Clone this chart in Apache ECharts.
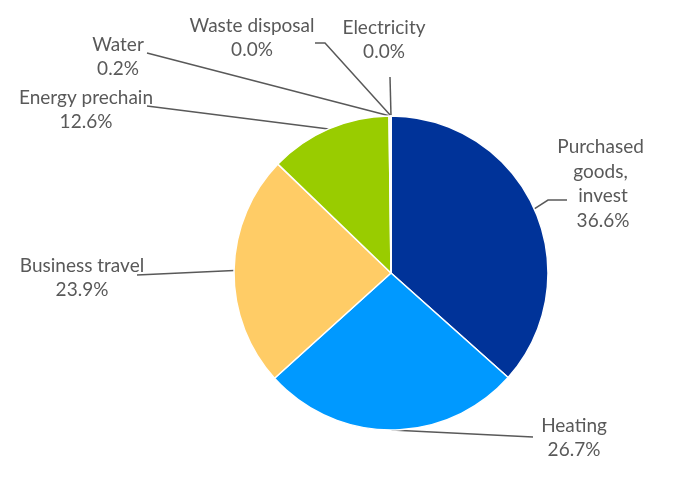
<!DOCTYPE html>
<html>
<head>
<meta charset="utf-8">
<script src="https://cdn.jsdelivr.net/npm/echarts@6/dist/echarts.min.js"></script>
<style>html,body{margin:0;padding:0;background:#fff}#c{width:679px;height:477px}</style>
</head>
<body>
<div id="c"></div>
<script>
const categories = ["Purchased goods, invest", "Heating", "Business travel", "Energy prechain", "Water", "Waste disposal", "Electricity"];
const values = [36.6, 26.7, 23.9, 12.6, 0.2, 0.0, 0.0];
const colors = ["#003399", "#0099FF", "#FFCC66", "#99CC00", "#D9D9D9", "#A6A6A6", "#7F7F7F"];

// label anchor layout (text block centre, line end points)
const labelPos = [
  { x: 603, y: 184, pts: [[548, 200], [567, 200]] },
  { x: 574, y: 438, pts: [[460, 434], [533, 437]] },
  { x: 82, y: 278, pts: [[180, 273], [137, 275]] },
  { x: 86, y: 110, pts: [[240, 118], [147, 106]] },
  { x: 118, y: 57, pts: [[270, 85], [147, 53]] },
  { x: 252, y: 38, pts: [[325, 43], [315, 43]] },
  { x: 384, y: 40, pts: [[390, 90], [390, 77]] }
];

const chart = echarts.init(document.getElementById('c'), null, { renderer: 'canvas' });
chart.setOption({
  animation: false,
  backgroundColor: '#ffffff',
  series: [{
    type: 'pie',
    center: [391, 273],
    radius: 157,
    startAngle: 90,
    clockwise: true,
    avoidLabelOverlap: false,
    itemStyle: { borderColor: '#ffffff', borderWidth: 1.5 },
    label: {
      show: true,
      position: 'outside',
      color: '#595959',
      fontFamily: 'Lato',
      fontSize: 19,
      lineHeight: 24.5,
      align: 'center',
      formatter: p => p.name + '\n' + Number(p.value).toFixed(1) + '%'
    },
    labelLine: { show: true, lineStyle: { color: '#595959', width: 1.5 } },
    labelLayout: function (params) {
      const lp = labelPos[params.dataIndex];
      const start = params.labelLinePoints ? params.labelLinePoints[0] : lp.pts[0];
      let mid = lp.pts[0];
      if ((params.dataIndex >= 1 && params.dataIndex <= 4) || params.dataIndex === 6) {
        mid = [(start[0] + lp.pts[1][0]) / 2, (start[1] + lp.pts[1][1]) / 2];
      }
      return {
        x: lp.x, y: lp.y, align: 'center', verticalAlign: 'middle',
        labelLinePoints: [start, mid, lp.pts[1]]
      };
    },
    data: categories.map((c, i) => ({
      name: c,
      value: values[i],
      itemStyle: { color: colors[i] },
      label: i === 0 ? { width: 100, overflow: 'break' } : {}
    }))
  }]
});
</script>
</body>
</html>
